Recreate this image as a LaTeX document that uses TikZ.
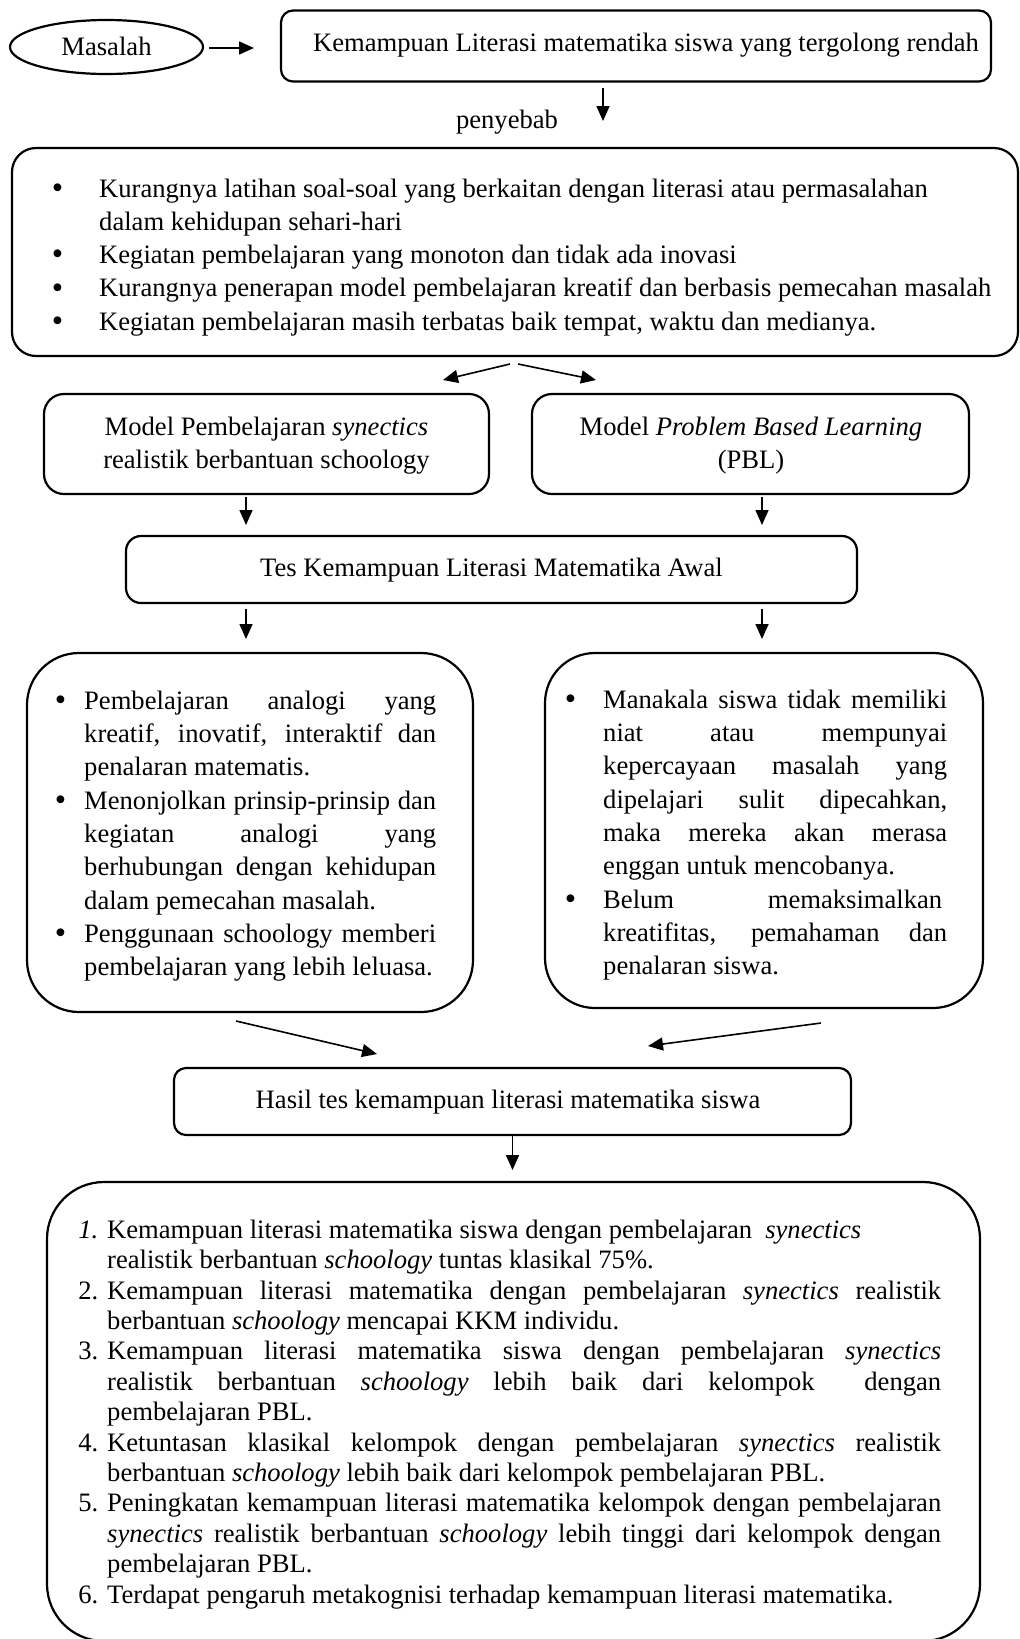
\documentclass[tikz,border=0pt]{standalone}
\usepackage{fontspec}
\usepackage{graphicx}
\setmainfont{Liberation Serif}
\usetikzlibrary{arrows.meta,shapes.geometric}
\newcommand{\Jl}[2]{\makebox[#1pt][s]{#2}}
\newcommand{\bigbul}{\raisebox{-1.2pt}{\scalebox{1.22}{\textbullet}}}
\newcommand{\bul}[1]{\leavevmode\llap{\bigbul\hspace{#1pt}}}
\newcommand{\numb}[1]{\leavevmode\llap{#1\hspace{9pt}}}
\newcommand{\fs}{\rule{0pt}{25pt}}
\newcommand{\nsp}{\spaceskip=0pt\xspaceskip=0pt\relax}
\begin{document}
\begin{tikzpicture}[x=1pt,y=-1pt,
  box/.style={draw, line width=2.2pt, rounded corners=#1, inner sep=0pt},
  box/.default=12pt,
  arr/.style={line width=1.6pt, -{Triangle[length=15pt,width=13pt]}},
  txt/.style={inner sep=0pt, font=\fontsize{26.6}{33.3}\selectfont},
  blk/.style={inner sep=0pt, align=flush left, anchor=north west},
  f33/.style={font=\fontsize{26.6}{33.3}\selectfont},
  f332/.style={font=\fontsize{26.6}{33.2}\selectfont},
  f30/.style={font=\fontsize{26.6}{30.4}\selectfont}
]
\useasboundingbox (0,0) rectangle (1020,1639);
\clip (0,0) rectangle (1020,1639);
\fill[white] (0,0) rectangle (1020,1639);

% boxes
\node[draw, line width=2.2pt, ellipse, inner sep=0pt, minimum width=193pt, minimum height=54pt] (mas) at (106.5,47) {};
\node[box=12pt, minimum width=710pt, minimum height=71pt] (kbox) at (636,46) {};
\node[box=24pt, minimum width=1006pt, minimum height=208pt] (cause) at (515,252) {};
\node[box=20pt, minimum width=445pt, minimum height=100pt] (mL) at (266.5,444) {};
\node[box=20pt, minimum width=437pt, minimum height=100pt] (mR) at (750.5,444) {};
\node[box=15pt, minimum width=731pt, minimum height=67pt] (tes) at (491.5,569.5) {};
\node[box=52pt, minimum width=446pt, minimum height=359pt] (bL) at (250,832.5) {};
\node[box=50pt, minimum width=438pt, minimum height=355pt] (bR) at (764,830.5) {};
\node[box=12pt, minimum width=677pt, minimum height=67pt] (hasil) at (512.5,1101.5) {};
\node[box=57pt, minimum width=933pt, minimum height=459pt] (res) at (513.5,1411.5) {};

% single-line texts
\node[txt, anchor=base] (mast) at (106.5,55) {Masalah};
\node[txt, anchor=base] (kt) at (646,51) {Kemampuan Literasi matematika siswa yang tergolong rendah};
\node[txt, anchor=base] (peny) at (507,128) {penyebab};
\node[txt, anchor=base] (test) at (491.5,576) {Tes Kemampuan Literasi Matematika Awal};
\node[txt, anchor=base] (hasilt) at (508,1108) {Hasil tes kemampuan literasi matematika siswa};

% model texts
\node[txt, f33, align=flush center, text width=430pt, anchor=north] (mLt) at (266.5,410) {\nsp\fs Model Pembelajaran \textit{synectics}\\realistik berbantuan schoology};
\node[txt, f33, align=flush center, text width=430pt, anchor=north] (mRt) at (751,410) {\nsp\fs Model \textit{Problem Based Learning}\\(PBL)};

% cause list
\node[blk, f332, text width=915pt] (causet) at (99,172) {\nsp\noindent\fs\bul{36}Kurangnya latihan soal-soal yang berkaitan dengan literasi atau permasalahan\\
dalam kehidupan sehari-hari\\
\bul{36}Kegiatan pembelajaran yang monoton dan tidak ada inovasi\\
\bul{36}Kurangnya penerapan model pembelajaran kreatif dan berbasis pemecahan masalah\\
\bul{36}Kegiatan pembelajaran masih terbatas baik tempat, waktu dan medianya.};

% left list
\node[blk, f33, text width=352pt] (bLt) at (84,684) {\nsp\noindent\fs\bul{18}\Jl{352}{Pembelajaran analogi yang}\\
\Jl{352}{kreatif, inovatif, interaktif dan}\\
penalaran matematis.\\
\bul{18}\Jl{352}{Menonjolkan prinsip-prinsip dan}\\
\Jl{352}{kegiatan analogi yang}\\
\Jl{352}{berhubungan dengan kehidupan}\\
dalam pemecahan masalah.\\
\bul{18}\Jl{352}{Penggunaan schoology memberi}\\
pembelajaran yang lebih leluasa.};

% right list
\node[blk, f33, text width=344pt] (bRt) at (603,683) {\nsp\noindent\fs\bul{27}\Jl{344}{Manakala siswa tidak memiliki}\\
\Jl{344}{niat atau mempunyai}\\
\Jl{344}{kepercayaan masalah yang}\\
\Jl{344}{dipelajari sulit dipecahkan,}\\
\Jl{344}{maka mereka akan merasa}\\
enggan untuk mencobanya.\\
\bul{27}\Jl{339}{Belum memaksimalkan}\\
\Jl{344}{kreatifitas, pemahaman dan}\\
penalaran siswa.};

% result list
\node[blk, f30, text width=840pt] (rest) at (107,1213) {\nsp\noindent\fs\numb{\textit{1.}}Kemampuan literasi matematika siswa dengan pembelajaran \ \textit{synectics}\\
realistik berbantuan \textit{schoology} tuntas klasikal 75\%.\\
\numb{2.}\Jl{834}{Kemampuan literasi matematika dengan pembelajaran \textit{synectics} realistik}\\
berbantuan \textit{schoology} mencapai KKM individu.\\
\numb{3.}\Jl{834}{Kemampuan literasi matematika siswa dengan pembelajaran \textit{synectics}}\\
\Jl{834}{realistik berbantuan \textit{schoology} lebih baik dari kelompok \ dengan}\\
pembelajaran PBL.\\
\numb{4.}\Jl{834}{Ketuntasan klasikal kelompok dengan pembelajaran \textit{synectics} realistik}\\
berbantuan \textit{schoology} lebih baik dari kelompok pembelajaran PBL.\\
\numb{5.}\Jl{834}{Peningkatan kemampuan literasi matematika kelompok dengan pembelajaran}\\
\Jl{834}{\textit{synectics} realistik berbantuan \textit{schoology} lebih tinggi dari kelompok dengan}\\
pembelajaran PBL.\\
\numb{6.}Terdapat pengaruh metakognisi terhadap kemampuan literasi matematika.};

% arrow end points
\coordinate (a0s) at (209,48);  \coordinate (a0e) at (254,48);
\coordinate (a1s) at (603,88);  \coordinate (a1e) at (603,121);
\coordinate (a2s) at (510,364); \coordinate (a2e) at (443,380);
\coordinate (a3s) at (518,364); \coordinate (a3e) at (596,380);
\coordinate (a4s) at (246,497); \coordinate (a4e) at (246,525);
\coordinate (a5s) at (762,497); \coordinate (a5e) at (762,525);
\coordinate (a6s) at (246,609); \coordinate (a6e) at (246,639);
\coordinate (a7s) at (762,609); \coordinate (a7e) at (762,639);
\coordinate (a8s) at (236,1021); \coordinate (a8e) at (377,1054);
\coordinate (a9s) at (821,1023); \coordinate (a9e) at (648,1046);
\coordinate (a10e) at (512.5,1170);

\draw[arr] (a0s) -- (a0e);
\draw[arr] (a1s) -- (a1e);
\draw[arr] (a2s) -- (a2e);
\draw[arr] (a3s) -- (a3e);
\draw[arr] (a4s) -- (a4e);
\draw[arr] (a5s) -- (a5e);
\draw[arr] (a6s) -- (a6e);
\draw[arr] (a7s) -- (a7e);
\draw[arr] (a8s) -- (a8e);
\draw[arr] (a9s) -- (a9e);
\draw[arr] (hasil.south) -- (a10e);
\end{tikzpicture}
\end{document}
